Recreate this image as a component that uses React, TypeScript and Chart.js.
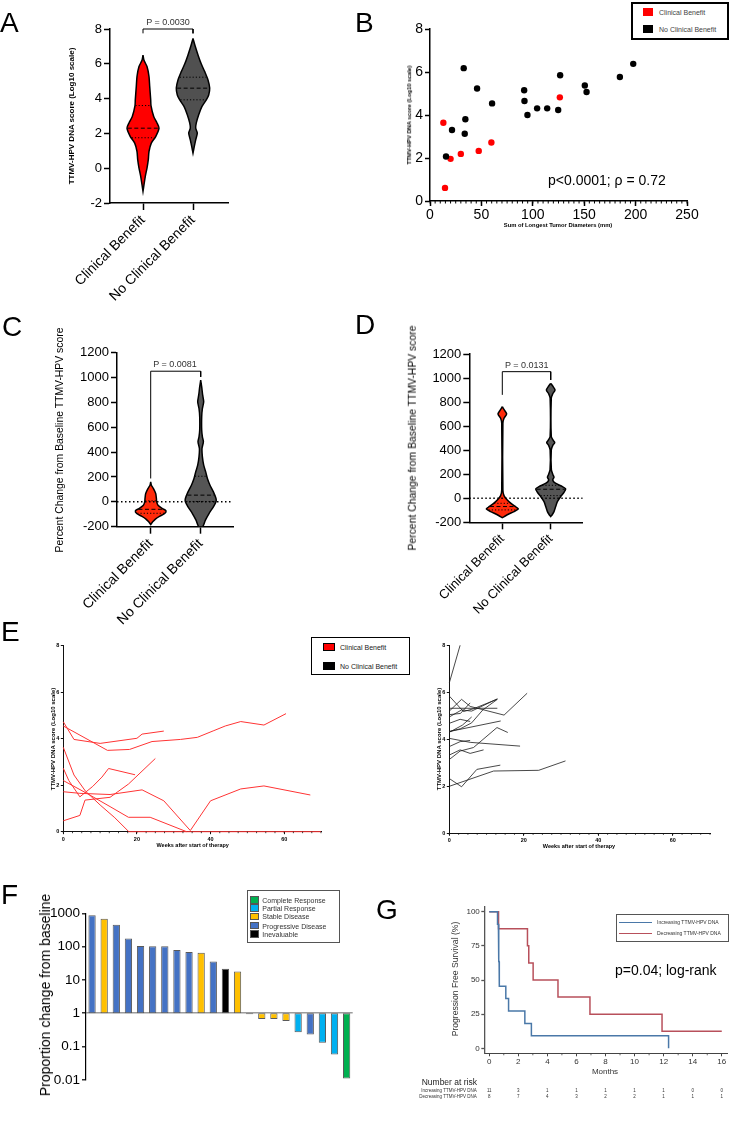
import React, { useEffect, useRef } from 'react';
import { Chart, registerables } from 'chart.js';

Chart.register(...registerables);

const FONT = '"Liberation Sans", Arial, Helvetica, sans-serif';
Chart.defaults.font.family = FONT;

// ---------------- Panel A : violin, baseline score ----------------
const violinCategories = ['Clinical Benefit', 'No Clinical Benefit'];
const aYTicks = [-2, 0, 2, 4, 6, 8];
const aCbY = [6.5, 6.2, 5.84, 5.27, 4.7, 3.93, 3.6, 2.97, 2.6, 2.3, 1.82, 1.44, 0.96, 0.49, 0.01, -0.47, -0.95, -1.33];
const aCbW = [0, 0.02, 0.08, 0.12, 0.134, 0.154, 0.16, 0.214, 0.28, 0.32, 0.254, 0.166, 0.12, 0.106, 0.08, 0.046, 0.02, 0];
const aNcbY = [7.46, 6.99, 6.51, 6.03, 5.55, 5.07, 4.6, 4.21, 3.93, 3.55, 3.07, 2.6, 2.3, 2.02, 1.63, 1.25, 0.87];
const aNcbW = [0, 0.046, 0.1, 0.16, 0.234, 0.3, 0.334, 0.314, 0.266, 0.18, 0.114, 0.066, 0.054, 0.086, 0.054, 0.026, 0];
const aCbQuartiles = [1.75, 2.3, 3.6];
const aNcbQuartiles = [3.93, 4.6, 5.23];
const aBracket = [7.75, 8, 7.75];

// ---------------- Panel B : scatter ----------------
const bXTicks = [0, 50, 100, 150, 200, 250];
const bYTicks = [0, 2, 4, 6, 8];
const bCbX = [13, 14.6, 20, 30, 47.4, 59.7, 126.3];
const bCbY = [3.64, 0.61, 1.96, 2.19, 2.33, 2.72, 4.82];
const bNcbX = [15.6, 21.4, 32.8, 33.8, 34.4, 45.8, 60.4, 91.6, 91.9, 94.8, 104.2, 114, 124.7, 126.6, 150.6, 152.3, 184.7, 197.7];
const bNcbY = [2.07, 3.3, 6.18, 3.13, 3.8, 5.23, 4.54, 5.15, 4.65, 4.0, 4.31, 4.31, 4.23, 5.85, 5.37, 5.07, 5.77, 6.38];

// ---------------- Panel C : violin, percent change ----------------
const pctTicks = [-200, 0, 200, 400, 600, 800, 1000, 1200];
const cCbY = [161, 134, 107, 67, 27, 0, -27, -54, -72, -94, -115, -137, -161, -182];
const cCbW = [0, 0.014, 0.054, 0.1, 0.114, 0.12, 0.146, 0.234, 0.306, 0.28, 0.186, 0.1, 0.04, 0];
const cNcbY = [979, 925, 858, 805, 751, 684, 577, 523, 483, 429, 362, 295, 241, 188, 134, 80, 27, 0, -40, -94, -147, -200];
const cNcbW = [0, 0.02, 0.04, 0.06, 0.034, 0.02, 0.02, 0.034, 0.054, 0.026, 0.034, 0.06, 0.1, 0.134, 0.186, 0.254, 0.306, 0.306, 0.254, 0.166, 0.094, 0.04];
const cCbQuartiles = [-92, -60, 8];
const cNcbQuartiles = [3, 54, 206];
const cBracket = [188, 1051, 1005];

// ---------------- Panel D : violin, percent change ----------------
const dCbY = [762, 735, 701, 665, 624, 69, 22, -14, -47, -75, -89, -111, -133, -152, -161];
const dCbW = [0, 0.041, 0.089, 0.035, 0.012, 0.012, 0.035, 0.103, 0.192, 0.289, 0.331, 0.242, 0.124, 0.041, 0];
const dNcbY = [956, 934, 901, 868, 832, 513, 480, 463, 444, 402, 236, 194, 175, 152, 125, 97, 78, 50, 14, -28, -69, -111, -139, -152];
const dNcbW = [0, 0.041, 0.089, 0.041, 0.012, 0.012, 0.056, 0.083, 0.048, 0.012, 0.014, 0.048, 0.068, 0.041, 0.097, 0.242, 0.31, 0.275, 0.207, 0.138, 0.103, 0.068, 0.027, 0];
const dCbQuartiles = [-97, -69, -42];
const dNcbQuartiles = [22, 75, 108];
const dBracket = [860, 1053, 984];

// ---------------- Panel E : longitudinal lines [week, score] ----------------
const eXTicks = [0, 20, 40, 60];
const eYTicks = [0, 2, 4, 6, 8];
const eCbPatients = [
  [[0, 4.73], [2.9, 3.97], [10, 3.8], [20, 4.02], [21.4, 4.2], [27.3, 4.33]],
  [[0, 4.55], [12, 3.5], [18, 3.54], [24.1, 3.88], [31.8, 3.97], [36.4, 4.06], [40.9, 4.35], [44, 4.55], [48.2, 4.74], [54.5, 4.59], [60.5, 5.08]],
  [[0, 3.63], [2.9, 2.44], [6, 1.75], [10, 1.15], [14, 0.6], [17.8, 0], [70, 0]],
  [[0, 2.73], [1.5, 2.2], [4.5, 1.5], [8, 1.95], [10.5, 2.35], [12.3, 2.72], [19.5, 2.45]],
  [[0, 2.2], [6.4, 1.65], [12.7, 1.08], [17.7, 0.62], [23.6, 0.62], [33.5, 0]],
  [[0, 1.72], [4.5, 1.65], [12.7, 1.6], [21.4, 1.8], [27.3, 1.33], [34.5, 0.05], [40, 1.33], [48.2, 1.84], [54.5, 1.97], [67.1, 1.58]],
  [[0, 0.47], [4.5, 0.7], [5.9, 1.36], [12.7, 1.48], [17.7, 2.05], [25, 3.15]],
];
const eNcbPatients = [
  [[0, 6.4], [2.9, 8.0]],
  [[0, 5.84], [3.8, 5.18], [6.5, 5.3], [12.9, 5.71]],
  [[0, 5.32], [12.9, 5.32]],
  [[0, 5.2], [3.3, 5.7], [5.6, 5.4], [14.7, 5.03], [20.9, 5.96]],
  [[0, 5.05], [3, 5.1], [5.6, 5.55]],
  [[0, 4.95], [3.3, 5.25], [6, 5.2], [12.9, 5.72]],
  [[0, 4.68], [2.9, 4.85], [5.6, 4.76]],
  [[0, 4.33], [3, 4.45], [6, 4.7], [9, 5.25], [12.9, 5.7]],
  [[0, 4.33], [13.8, 4.78]],
  [[0, 4.3], [3.5, 4.6], [6, 4.95]],
  [[0, 4.04], [5.6, 3.87], [19, 3.71]],
  [[0, 3.69], [2.9, 3.9], [5.6, 3.95]],
  [[0, 3.33], [2.9, 3.55], [5.6, 3.4], [9.2, 3.55]],
  [[0, 3.14], [2.9, 3.5], [6.5, 3.65], [12.8, 4.5], [15.7, 4.29]],
  [[0, 2.33], [3.3, 1.98], [7.4, 2.72], [13.7, 2.9]],
  [[0, 2.0], [11.9, 2.65], [24, 2.68], [31.2, 3.08]],
];

// ---------------- Panel F : waterfall (log) ----------------
const fValues = [870, 684, 450, 174, 105, 103, 103, 79, 69, 65, 36, 21.5, 18, 0.94, 0.67, 0.67, 0.59, 0.27, 0.23, 0.13, 0.058, 0.011];
const fResponse = ['PD', 'SD', 'PD', 'PD', 'PD', 'PD', 'PD', 'PD', 'PD', 'SD', 'PD', 'NE', 'SD', 'NE', 'SD', 'SD', 'SD', 'PR', 'PD', 'PR', 'PR', 'CR'];
const fYTicks = [0.01, 0.1, 1, 10, 100, 1000];
const fLegendCodes = ['CR', 'PR', 'SD', 'PD', 'NE'];
const fLegendLabels = ['Complete Response', 'Partial Response', 'Stable Disease', 'Progressive Disease', 'Inevaluable'];
const fColors: any = { CR: '#00b050', PR: '#00b0f0', SD: '#ffc000', PD: '#4472c4', NE: '#000000' };

// ---------------- Panel G : Kaplan-Meier ----------------
const gXTicks = [0, 2, 4, 6, 8, 10, 12, 14, 16];
const gYTicks = [0, 25, 50, 75, 100];
const gIncEventMonths = [0.57, 0.63, 0.65, 0.67, 0.68, 0.7, 1.14, 1.33, 2.45, 2.9, 12.34];
const gIncSurvival = [90.9, 81.8, 72.7, 63.6, 54.5, 45.5, 36.4, 27.3, 18.2, 9.1, 0];
const gDecEventMonths = [0.64, 2.63, 2.72, 3.02, 4.73, 6.93, 11.89];
const gDecSurvival = [87.5, 75, 62.5, 50, 37.5, 25, 12.5];
const gDecLastFollowUp = 16;
const gRiskInc = [11, 3, 1, 1, 1, 1, 1, 0, 0];
const gRiskDec = [8, 7, 4, 3, 2, 2, 1, 1, 1];
const G_XMIN = -0.34, G_XMAX = 16.36;
const G_LEFT = 484.3, G_RIGHT = 727;

// ---------------- helpers ----------------
function violinPath(center: number, ys: number[], ws: number[]) {
  const right = ys.map((y, i) => ({ x: center + ws[i], y }));
  const left = ys.map((y, i) => ({ x: center - ws[i], y })).reverse();
  return [...right, ...left];
}
function widthAt(ys: number[], ws: number[], y: number) {
  for (let i = 0; i < ys.length - 1; i++) {
    const a = ys[i], b = ys[i + 1];
    if ((y <= a && y >= b) || (y >= a && y <= b)) {
      const t = (y - a) / (b - a || 1);
      return ws[i] + t * (ws[i + 1] - ws[i]);
    }
  }
  return 0;
}
function violinDatasets(center: number, ys: number[], ws: number[], color: string, quart: number[]) {
  const shape = {
    data: violinPath(center, ys, ws), fill: 'shape', backgroundColor: color, borderColor: '#000',
    borderWidth: 1.5, pointRadius: 0, tension: 0.25, order: 3,
  };
  const lines = quart.map((q, i) => {
    const w = widthAt(ys, ws, q) * 0.95;
    return {
      data: [{ x: center - w, y: q }, { x: center + w, y: q }], borderColor: '#000', borderWidth: 1,
      borderDash: i === 1 ? [4, 2.5] : [1.2, 2], pointRadius: 0, fill: false, order: 1,
    };
  });
  return [shape, ...lines];
}
function bracketDataset(b: number[]) {
  return {
    data: [{ x: 1, y: b[0] }, { x: 1, y: b[1] }, { x: 2, y: b[1] }, { x: 2, y: b[2] }],
    borderColor: '#000', borderWidth: 1, pointRadius: 0, fill: false, clip: false, order: 0,
  };
}
function linAxis(o: any) {
  return {
    type: o.type || 'linear',
    display: true,
    bounds: 'data',
    min: o.min, max: o.max,
    afterBuildTicks: (s: any) => { s.ticks = o.ticks.map((v: number) => ({ value: v })); },
    afterFit: (s: any) => { if (s.isHorizontal()) s.height = o.size; else s.width = o.size; },
    grid: {
      display: true, drawOnChartArea: false, drawTicks: true, tickLength: o.tickLen,
      tickWidth: o.lineWidth ?? 1.5, tickColor: o.lineColor ?? '#000',
    },
    border: { display: true, color: o.lineColor ?? '#000', width: o.lineWidth ?? 1.5 },
    ticks: {
      padding: o.pad, color: o.color ?? '#000', autoSkip: false,
      font: { family: FONT, size: o.font, weight: o.bold ? 'bold' : 'normal' },
      maxRotation: o.rotate ?? 0, minRotation: o.rotate ?? 0,
      callback: o.label ?? ((v: number) => String(v)),
    },
  };
}
function minorTicks(specs: any[]) {
  return {
    id: 'minorTicks',
    afterDatasetsDraw(chart: any) {
      const ctx = chart.ctx;
      ctx.save();
      for (const s of specs) {
        const sc = chart.scales[s.axis];
        ctx.strokeStyle = s.color;
        ctx.lineWidth = s.width;
        ctx.beginPath();
        for (const v of s.values) {
          const p = sc.getPixelForValue(v);
          if (sc.isHorizontal()) { ctx.moveTo(p, sc.top); ctx.lineTo(p, sc.top + s.len); }
          else { ctx.moveTo(sc.right, p); ctx.lineTo(sc.right - s.len, p); }
        }
        ctx.stroke();
      }
      ctx.restore();
    },
  };
}
function range(a: number, b: number, step: number) {
  const out: number[] = [];
  for (let v = a; v <= b + 1e-9; v += step) out.push(Math.round(v * 1000) / 1000);
  return out;
}
function kmSteps(times: number[], surv: number[], end?: number) {
  const pts = [{ x: 0, y: 100 }];
  let prev = 100;
  times.forEach((t, i) => { pts.push({ x: t, y: prev }); pts.push({ x: t, y: surv[i] }); prev = surv[i]; });
  if (end !== undefined) pts.push({ x: end, y: prev });
  return pts;
}
const baseOptions = (padding: any) => ({
  responsive: true, maintainAspectRatio: false, animation: false, events: [],
  layout: { padding },
  plugins: { legend: { display: false }, tooltip: { enabled: false } },
});

// ---------------- configs ----------------
const configA = () => ({
  type: 'line',
  data: {
    datasets: [
      bracketDataset(aBracket),
      ...violinDatasets(1, aCbY, aCbW, '#ff0000', aCbQuartiles),
      ...violinDatasets(2, aNcbY, aNcbW, '#505050', aNcbQuartiles),
    ],
  },
  options: {
    ...baseOptions({ top: 29, right: 32, left: 0, bottom: 0 }),
    scales: {
      x: linAxis({ min: 0.34, max: 2.7, ticks: [1, 2], size: 107, tickLen: 7, pad: 2, font: 14, rotate: 45, label: (v: number) => violinCategories[Math.round(v) - 1] }),
      y: linAxis({ min: -2, max: 8, ticks: aYTicks, size: 110, tickLen: 6, pad: 2, font: 13 }),
    },
  },
});

const configB = () => ({
  type: 'scatter',
  data: {
    datasets: [
      { data: bNcbX.map((x, i) => ({ x, y: bNcbY[i] })), pointRadius: 3.2, pointBackgroundColor: '#000', pointBorderWidth: 0 },
      { data: bCbX.map((x, i) => ({ x, y: bCbY[i] })), pointRadius: 3.2, pointBackgroundColor: '#ff0000', pointBorderWidth: 0 },
    ],
  },
  options: {
    ...baseOptions({ top: 29, right: 50, left: 0, bottom: 0 }),
    scales: {
      x: linAxis({ min: 0, max: 250, ticks: bXTicks, size: 39, tickLen: 5, pad: 1, font: 14 }),
      y: linAxis({ min: 0, max: 8, ticks: bYTicks, size: 90, tickLen: 5, pad: 2, font: 14 }),
    },
  },
  plugins: [minorTicks([{ axis: 'x', values: range(0, 250, 5), len: 2.5, width: 1, color: '#000' }])],
});

const pctConfig = (cb: any, ncb: any, bracket: number[], xmin: number, xmax: number, pad: any, ySize: number, xSize: number, xFont: number, red: string) => () => ({
  type: 'line',
  data: {
    datasets: [
      bracketDataset(bracket),
      { data: [{ x: xmin, y: 0 }, { x: xmax, y: 0 }], borderColor: '#000', borderWidth: 1.5, borderDash: [1.5, 2.5], pointRadius: 0, fill: false, order: 0 },
      ...violinDatasets(1, cb[0], cb[1], red, cb[2]),
      ...violinDatasets(2, ncb[0], ncb[1], '#555555', ncb[2]),
    ],
  },
  options: {
    ...baseOptions(pad),
    scales: {
      x: linAxis({ min: xmin, max: xmax, ticks: [1, 2], size: xSize, tickLen: 7, pad: 2, font: xFont, rotate: 45, label: (v: number) => violinCategories[Math.round(v) - 1] }),
      y: linAxis({ min: -200, max: 1200, ticks: pctTicks, size: ySize, tickLen: 6, pad: 2, font: 13 }),
    },
  },
});

const configC = pctConfig([cCbY, cCbW, cCbQuartiles], [cNcbY, cNcbW, cNcbQuartiles], cBracket, 0.326, 2.646, { top: 12.7, right: 27, left: 0, bottom: 0 }, 117, 103.3, 14, '#ff2a0a');
const configD = pctConfig([dCbY, dCbW, dCbQuartiles], [dNcbY, dNcbW, dNcbQuartiles], dBracket, 0.318, 2.661, { top: 14, right: 17.3, left: 0, bottom: 0 }, 129.3, 107.7, 13, '#ff2a0a');

const lineConfig = (patients: number[][][], color: string, width: number, pad: any, ySize: number, xSize: number) => () => ({
  type: 'line',
  data: {
    datasets: patients.map((p) => ({
      data: p.map(([x, y]) => ({ x, y })), borderColor: color, borderWidth: width, pointRadius: 0, fill: false, tension: 0, clip: false,
    })),
  },
  options: {
    ...baseOptions(pad),
    scales: {
      x: linAxis({ min: 0, max: 70, ticks: eXTicks, size: xSize, tickLen: 2.5, pad: 1.5, font: 5.5, bold: true, lineWidth: 1, lineColor: '#111' }),
      y: linAxis({ min: 0, max: 8, ticks: eYTicks, size: ySize, tickLen: 2.5, pad: 1.5, font: 5.5, bold: true, lineWidth: 1, lineColor: '#111' }),
    },
  },
  plugins: [minorTicks([{ axis: 'x', values: range(0, 70, 2.5), len: 1.5, width: 0.8, color: '#111' }])],
});
const configELeft = lineConfig(eCbPatients, '#ff3434', 1, { top: 5.8, right: 19, left: 0, bottom: 0 }, 63.3, 23.3);
const configERight = lineConfig(eNcbPatients, '#1a1a1a', 0.8, { top: 5.3, right: 27, left: 0, bottom: 0 }, 79.3, 21.7);

const configF = () => ({
  type: 'bar',
  data: {
    labels: fValues.map((_, i) => String(i + 1)),
    datasets: [{
      data: fValues.map((v) => [1, v]),
      backgroundColor: fResponse.map((r) => fColors[r]),
      borderColor: '#5a5a5a', borderWidth: 1, borderSkipped: false,
      categoryPercentage: 1, barPercentage: 0.6,
    }],
  },
  options: {
    ...baseOptions({ top: 33.3, right: 7.3, left: 0, bottom: 2.7 }),
    scales: {
      x: { display: false },
      y: {
        type: 'logarithmic', min: 0.01, max: 1000,
        afterBuildTicks: (s: any) => { s.ticks = fYTicks.map((v) => ({ value: v })); },
        afterFit: (s: any) => { s.width = 86; },
        grid: {
          display: true, drawOnChartArea: true, drawTicks: true, tickLength: 4, tickWidth: 1.2, tickColor: '#000',
          color: (c: any) => (c.tick && c.tick.value === 1 ? '#9c9c9c' : 'rgba(0,0,0,0)'), lineWidth: 1.6,
        },
        border: { display: true, color: '#000', width: 1.2 },
        ticks: { padding: 2, color: '#000', font: { family: FONT, size: 13.5 }, autoSkip: false, callback: (v: number) => String(v) },
      },
    },
  },
});

const configG = () => ({
  type: 'line',
  data: {
    datasets: [
      { data: kmSteps(gIncEventMonths, gIncSurvival), borderColor: '#4a78a8', borderWidth: 1.5, pointRadius: 0, fill: false, tension: 0 },
      { data: kmSteps(gDecEventMonths, gDecSurvival, gDecLastFollowUp), borderColor: '#b8505b', borderWidth: 1.5, pointRadius: 0, fill: false, tension: 0 },
    ],
  },
  options: {
    ...baseOptions({ top: 26.7, right: 10, left: 0, bottom: 0 }),
    scales: {
      x: linAxis({ min: G_XMIN, max: G_XMAX, ticks: gXTicks, size: 26.7, tickLen: 3, pad: 1, font: 8, lineWidth: 1, lineColor: '#444', color: '#333' }),
      y: linAxis({ min: -3.66, max: 103.66, ticks: gYTicks, size: 114.3, tickLen: 3, pad: 1.5, font: 8, lineWidth: 1.3, lineColor: '#555', color: '#333' }),
    },
  },
  plugins: [minorTicks([{ axis: 'x', values: range(1, 15, 2), len: 2, width: 0.8, color: '#444' }])],
});

// ---------------- components ----------------
function ChartBox({ left, top, width, height, config }: any) {
  const ref = useRef<HTMLCanvasElement | null>(null);
  useEffect(() => {
    const chart = new Chart(ref.current as HTMLCanvasElement, config());
    return () => chart.destroy();
  }, []);
  return (
    <div style={{ position: 'absolute', left, top, width, height }}>
      <canvas ref={ref} />
    </div>
  );
}

function Txt({ x, y, size, children, anchor = 'middle', bold = false, rotate = false, color = '#000' }: any) {
  const tx = anchor === 'start' ? '0' : anchor === 'end' ? '-100%' : '-50%';
  return (
    <div
      style={{
        position: 'absolute', left: x, top: y, fontSize: size, lineHeight: 1, fontFamily: FONT,
        fontWeight: bold ? 'bold' : 'normal', color, whiteSpace: 'nowrap',
        transform: rotate ? 'translate(-50%, -50%) rotate(-90deg)' : `translate(${tx}, -50%)`,
      }}
    >
      {children}
    </div>
  );
}

function Letter({ x, y, children }: any) {
  return <div style={{ position: 'absolute', left: x, top: y, fontSize: 28, lineHeight: 1, fontFamily: FONT, color: '#000' }}>{children}</div>;
}

function Box({ x, y, w, h, border, bg }: any) {
  return <div style={{ position: 'absolute', left: x, top: y, width: w, height: h, border, background: bg, boxSizing: 'border-box' }} />;
}

export default function App() {
  const gPx = (m: number) => G_LEFT + ((m - G_XMIN) / (G_XMAX - G_XMIN)) * (G_RIGHT - G_LEFT);
  return (
    <div style={{ position: 'absolute', left: 0, top: 0, width: 737, height: 1142, background: '#fff', overflow: 'hidden', fontFamily: FONT }}>
      <ChartBox left={0} top={0} width={260} height={310} config={configA} />
      <ChartBox left={340} top={0} width={397} height={240} config={configB} />
      <ChartBox left={0} top={340} width={260} height={290} config={configC} />
      <ChartBox left={340} top={340} width={260} height={290} config={configD} />
      <ChartBox left={0} top={640} width={340} height={215} config={configELeft} />
      <ChartBox left={370} top={640} width={367} height={215} config={configERight} />
      <ChartBox left={0} top={880} width={360} height={210} config={configF} />
      <ChartBox left={370} top={880} width={367} height={200} config={configG} />

      {/* Panel letters */}
      <Letter x={0} y={9.3}>A</Letter>
      <Letter x={355} y={9.3}>B</Letter>
      <Letter x={2} y={313}>C</Letter>
      <Letter x={355} y={311}>D</Letter>
      <Letter x={1} y={618}>E</Letter>
      <Letter x={1} y={881}>F</Letter>
      <Letter x={376} y={896}>G</Letter>

      {/* A */}
      <Txt x={168} y={22} size={9} color="#333">P = 0.0030</Txt>
      <Txt x={72} y={116} size={8} bold rotate>TTMV-HPV DNA score (Log10 scale)</Txt>

      {/* B */}
      <Txt x={410} y={115} size={5.8} bold rotate>TTMV-HPV DNA score (Log10 scale)</Txt>
      <Txt x={558} y={226} size={5.8} bold>Sum of Longest Tumor Diameters (mm)</Txt>
      <Txt x={548} y={180} size={14} anchor="start">p&lt;0.0001; ρ = 0.72</Txt>
      <Box x={631} y={2} w={98} h={38} border="2px solid #000" bg="#fff" />
      <Box x={643} y={8} w={10} h={8} bg="#ff0000" />
      <Txt x={659} y={12} size={7} anchor="start" color="#444">Clinical Benefit</Txt>
      <Box x={643} y={25} w={10} h={8} bg="#000" />
      <Txt x={659} y={29} size={7} anchor="start" color="#444">No Clinical Benefit</Txt>

      {/* C */}
      <Txt x={175} y={364} size={9} color="#333">P = 0.0081</Txt>
      <Txt x={60} y={439.5} size={10.4} rotate>Percent Change from Baseline TTMV-HPV score</Txt>

      {/* D */}
      <Txt x={526.7} y={365} size={9} color="#333">P = 0.0131</Txt>
      <Txt x={413} y={438} size={10.4} rotate>Percent Change from Baseline TTMV-HPV score</Txt>

      {/* E */}
      <Txt x={53} y={739} size={6} bold rotate>TTMV-HPV DNA score (Log10 scale)</Txt>
      <Txt x={192.7} y={846} size={5.5} bold>Weeks after start of therapy</Txt>
      <Txt x={439.3} y={739} size={6} bold rotate>TTMV-HPV DNA score (Log10 scale)</Txt>
      <Txt x={579} y={846.7} size={5.5} bold>Weeks after start of therapy</Txt>
      <Box x={311} y={637} w={99} h={38} border="1.5px solid #000" bg="#fff" />
      <Box x={323} y={642.5} w={12} h={8.5} bg="#ff0000" border="0.5px solid #000" />
      <Txt x={340} y={647} size={7} anchor="start" color="#222">Clinical Benefit</Txt>
      <Box x={323} y={661.5} w={12} h={8.5} bg="#000" />
      <Txt x={340} y={666} size={7} anchor="start" color="#222">No Clinical Benefit</Txt>

      {/* F */}
      <Txt x={45} y={995} size={14} rotate>Proportion change from baseline</Txt>
      <Box x={247} y={890} w={93} h={53} border="1px solid #555" bg="#fff" />
      {fLegendCodes.map((c, i) => (
        <React.Fragment key={c}>
          <Box x={250} y={[896, 904.3, 912.7, 921.7, 930][i]} w={8.5} h={7.5} bg={fColors[c]} border="0.5px solid #555" />
          <Txt x={262.3} y={[899.7, 908, 916.3, 925.5, 933.7][i]} size={7} anchor="start" color="#333">{fLegendLabels[i]}</Txt>
        </React.Fragment>
      ))}

      {/* G */}
      <Txt x={455} y={979} size={8.6} rotate color="#333">Progression Free Survival (%)</Txt>
      <Txt x={605} y={1072} size={8} color="#333">Months</Txt>
      <Txt x={615} y={970} size={14} anchor="start">p=0.04; log-rank</Txt>
      <Box x={616} y={914.3} w={113} h={27.4} border="1px solid #555" bg="#fff" />
      <Box x={619} y={921.5} w={33} h={1.5} bg="#4a78a8" />
      <Txt x={657} y={922.3} size={5} anchor="start" color="#333">Increasing TTMV-HPV DNA</Txt>
      <Box x={619} y={932.5} w={33} h={1.5} bg="#b8505b" />
      <Txt x={657} y={933.3} size={5} anchor="start" color="#333">Decreasing TTMV-HPV DNA</Txt>
      <Txt x={421.7} y={1082} size={8.5} anchor="start" color="#222">Number at risk</Txt>
      <Txt x={476.7} y={1090.7} size={4.5} anchor="end" color="#333">Increasing TTMV-HPV DNA</Txt>
      <Txt x={476.7} y={1097} size={4.5} anchor="end" color="#333">Decreasing TTMV-HPV DNA</Txt>
      {gXTicks.map((m, i) => (
        <React.Fragment key={m}>
          <Txt x={gPx(m)} y={1090.7} size={4.5} color="#333">{gRiskInc[i]}</Txt>
          <Txt x={gPx(m)} y={1097} size={4.5} color="#333">{gRiskDec[i]}</Txt>
        </React.Fragment>
      ))}
    </div>
  );
}
